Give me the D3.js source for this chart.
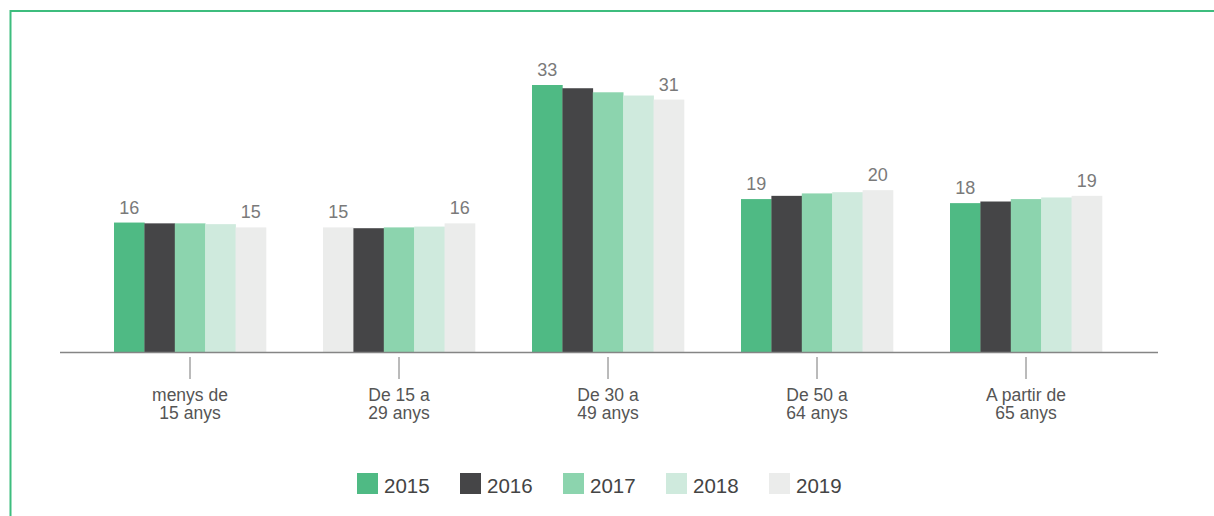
<!DOCTYPE html>
<html>
<head>
<meta charset="utf-8">
<script src="https://cdn.jsdelivr.net/npm/d3@7"></script>
<style>
  body { margin: 0; background: #fff; }
  svg text { font-family: "Liberation Sans", Arial, sans-serif; }
</style>
</head>
<body>
<div id="container"></div>
<script>
// categories (two lines each)
var categories = [
  ["menys de", "15 anys"],
  ["De 15 a", "29 anys"],
  ["De 30 a", "49 anys"],
  ["De 50 a", "64 anys"],
  ["A partir de", "65 anys"]
];
var years = ["2015", "2016", "2017", "2018", "2019"];

// values per year, one per category
var v2015 = [16.0, 15.4, 33.0, 18.9, 18.4];
var v2016 = [15.9, 15.3, 32.6, 19.3, 18.6];
var v2017 = [15.9, 15.4, 32.1, 19.6, 18.9];
var v2018 = [15.8, 15.5, 31.7, 19.75, 19.1];
var v2019 = [15.4, 15.9, 31.2, 20.0, 19.3];
var series = [v2015, v2016, v2017, v2018, v2019];

var colors = ["#4fba84", "#454547", "#8cd4ae", "#cfeadd", "#ebeceb"];
// the 2015 bar of "De 15 a 29 anys" is drawn in the 2019 colour in the original
var oddBar = { year: 0, cat: 1, colorOf: 4 };

var width = 1214, height = 516;

var svg = d3.select("#container")
  .append("svg")
  .attr("width", width)
  .attr("height", height);

// green frame (top and left)
svg.append("path")
  .attr("d", "M10.5,516 V11 H1214")
  .attr("fill", "none")
  .attr("stroke", "#3dbd7e")
  .attr("stroke-width", 2);

var x0 = d3.scalePoint()
  .domain(d3.range(categories.length))
  .range([85.5, 1130.5])
  .padding(0.5);

var x1 = d3.scaleBand()
  .domain(d3.range(years.length))
  .range([-76, 76]);

var y = d3.scaleLinear()
  .domain([0, 33])
  .range([352, 85]);

// bars
var groups = svg.selectAll("g.group")
  .data(categories)
  .enter()
  .append("g")
  .attr("class", "group")
  .attr("transform", function(d, i) { return "translate(" + x0(i) + ",0)"; });

groups.each(function(c, ci) {
  var g = d3.select(this);
  var bars = years.map(function(yr, yi) { return { yi: yi, v: series[yi][ci] }; });

  g.selectAll("rect")
    .data(bars)
    .enter()
    .append("rect")
    .attr("x", function(d) { return x1(d.yi); })
    .attr("width", x1.bandwidth() + 0.3)
    .attr("y", function(d) { return y(d.v); })
    .attr("height", function(d) { return y(0) - y(d.v); })
    .attr("fill", function(d) {
      if (ci == oddBar.cat && d.yi == oddBar.year) return colors[oddBar.colorOf];
      return colors[d.yi];
    });

  // labels on first and last bar only
  g.selectAll("text.val")
    .data([bars[0], bars[bars.length - 1]])
    .enter()
    .append("text")
    .attr("class", "val")
    .attr("x", function(d) { return x1(d.yi) + x1.bandwidth() / 2; })
    .attr("y", function(d) { return y(d.v) - 9; })
    .attr("text-anchor", "middle")
    .attr("fill", "#7a7a7a")
    .style("font-size", "18px")
    .text(function(d) { return Math.round(d.v); });
});

// baseline
svg.append("line")
  .attr("x1", 60).attr("x2", 1158)
  .attr("y1", y(0) + 0.5).attr("y2", y(0) + 0.5)
  .attr("stroke", "#858585")
  .attr("stroke-width", 1.5);

// ticks and category labels
var axis = svg.selectAll("g.cat")
  .data(categories)
  .enter()
  .append("g")
  .attr("class", "cat")
  .attr("transform", function(d, i) { return "translate(" + x0(i) + ",0)"; });

axis.append("line")
  .attr("x1", 0).attr("x2", 0)
  .attr("y1", 357).attr("y2", 379)
  .attr("stroke", "#777")
  .attr("stroke-width", 1);

axis.append("text")
  .attr("text-anchor", "middle")
  .attr("fill", "#555")
  .style("font-size", "17.5px")
  .selectAll("tspan")
  .data(function(d) { return d; })
  .enter()
  .append("tspan")
  .attr("x", 0)
  .attr("y", function(d, i) { return 401 + i * 18; })
  .text(function(d) { return d; });

// legend
var legend = svg.selectAll("g.legend")
  .data(years)
  .enter()
  .append("g")
  .attr("class", "legend")
  .attr("transform", function(d, i) { return "translate(" + (357 + i * 103) + ",473)"; });

legend.append("rect")
  .attr("width", 21)
  .attr("height", 21)
  .attr("fill", function(d, i) { return colors[i]; });

legend.append("text")
  .attr("x", 27)
  .attr("y", 20)
  .attr("fill", "#444")
  .style("font-size", "20.5px")
  .text(function(d) { return d; });
</script>
</body>
</html>
